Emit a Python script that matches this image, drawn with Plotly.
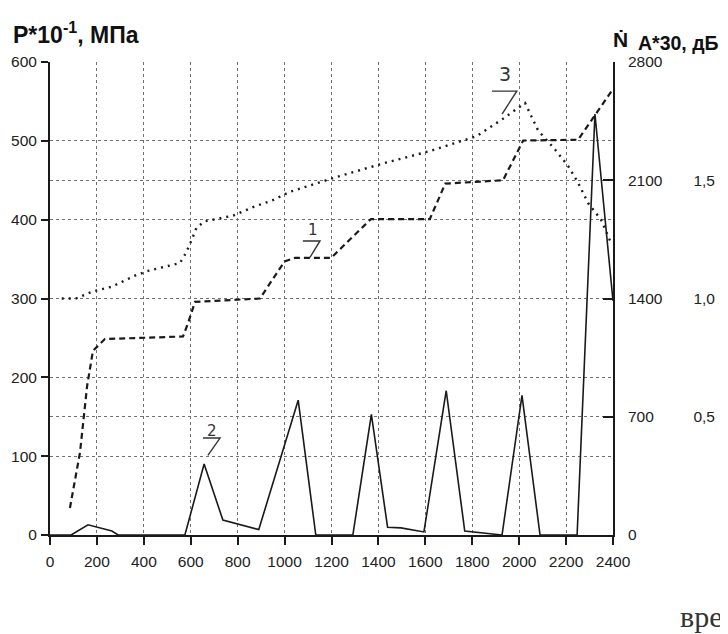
import plotly.graph_objects as go

# ---- data ----
# curve 3 (dotted): pressure P*10^-1, MPa (left axis)
p_time = [50, 110, 183, 264, 362, 418, 554, 580, 605, 625, 660, 780, 866, 952, 1020,
          1220, 1416, 1619, 1819, 1931, 2025, 2081, 2153, 2209, 2251, 2294, 2349, 2395]
p_values = [300, 300, 309, 315, 329, 335, 345, 358, 375, 390, 398, 405, 416, 425, 435,
            454, 471, 487, 506, 528, 548, 513, 489, 468, 447, 421, 400, 368]

# curve 1 (dashed): cumulative count N (right axis, 0..2800)
n_time = [85, 128, 158, 183, 234, 567, 590, 618, 895, 1000, 1044, 1198, 1368, 1619,
          1685, 1931, 2017, 2251, 2400]
n_values = [160, 490, 880, 1090, 1160, 1175, 1260, 1380, 1400, 1620, 1640, 1640, 1870,
            1870, 2080, 2100, 2335, 2340, 2640]

# curve 2 (solid): amplitude A*30, dB (far right axis, 0..2.0)
a_time = [0, 90, 162, 264, 290, 575, 657, 737, 890, 1058, 1133, 1291, 1370, 1439, 1496,
          1594, 1689, 1768, 1927, 2012, 2089, 2247, 2323, 2400]
a_values = [0, 0, 0.043, 0.017, 0, 0, 0.30, 0.063, 0.023, 0.57, 0, 0, 0.51, 0.033, 0.03,
            0.013, 0.61, 0.017, 0, 0.59, 0, 0, 1.78, 0.99]

x_ticks = [0, 200, 400, 600, 800, 1000, 1200, 1400, 1600, 1800, 2000, 2200, 2400]
p_ticks = [0, 100, 200, 300, 400, 500, 600]
n_ticks = [0, 700, 1400, 2100, 2800]
a_ticks = [0, 0.5, 1.0, 1.5, 2.0]
a_ticktext = ["0,0", "0,5", "1,0", "1,5", "2,0"]

# curve number labels: text, x, y (left scale)
curve_labels = [("1", 1121, 387), ("2", 690, 132), ("3", 1940, 585)]

INK = "#1a1a1a"
GRID = "#707070"
TICKFONT = dict(size=15.5, color="#222")

fig = go.Figure()
fig.add_trace(go.Scatter(x=p_time, y=p_values, mode="lines", yaxis="y",
                         line=dict(color=INK, width=2.4, dash="2px,5px"), showlegend=False))
fig.add_trace(go.Scatter(x=n_time, y=n_values, mode="lines", yaxis="y2",
                         line=dict(color=INK, width=2.2, dash="6px,4px"), showlegend=False))
fig.add_trace(go.Scatter(x=a_time, y=a_values, mode="lines", yaxis="y3",
                         line=dict(color=INK, width=1.6), showlegend=False))

# the page places the figure 8px in from the window's top-left corner
OFF = 8
W, H = 728, 634
ml = 50 - OFF
mt = 62 - OFF
mr = W - (718 - OFF)
mb = H - (535 - OFF)
pw = W - ml - mr
ph = H - mt - mb
xdom_end = 563 / pw


def px_x(px):  # screen pixel -> paper coordinate
    return (px - OFF - ml) / pw


def px_y(py):
    return (H - mb - (py - OFF)) / ph


fig.update_layout(
    width=W, height=H,
    margin=dict(l=ml, r=mr, t=mt, b=mb, autoexpand=False),
    paper_bgcolor="white", plot_bgcolor="white",
    font=dict(family="Liberation Sans, Arial, sans-serif", color="#222", size=12),
    xaxis=dict(domain=[0, xdom_end], range=[0, 2400], tickvals=x_ticks,
               showgrid=True, gridcolor=GRID, griddash="dot", gridwidth=1,
               showline=True, linecolor=INK, linewidth=2, zeroline=False,
               ticks="outside", ticklen=8, tickcolor=INK, tickwidth=1.5,
               ticklabelstandoff=3, automargin=False, tickfont=TICKFONT),
    yaxis=dict(range=[0, 600], tickvals=p_ticks, showgrid=True, gridcolor=GRID,
               griddash="dot", gridwidth=1, showline=True, linecolor=INK, linewidth=2,
               zeroline=False, ticks="outside", ticklen=7, tickcolor=INK, tickwidth=1.5,
               ticklabelstandoff=1, automargin=False, tickfont=TICKFONT),
    yaxis2=dict(overlaying="y", side="right", anchor="x", range=[0, 2800],
                tickvals=n_ticks, showgrid=True, gridcolor=GRID, griddash="dot",
                gridwidth=1, showline=True, linecolor=INK, linewidth=1.6,
                zeroline=False, ticks="inside", ticklen=10, tickcolor=INK,
                tickwidth=1.5, ticklabelstandoff=10, automargin=False,
                tickfont=TICKFONT),
    yaxis3=dict(overlaying="y", side="right", anchor="free", position=1.0,
                range=[0, 2], tickvals=a_ticks, ticktext=a_ticktext,
                showgrid=False, showline=False, zeroline=False, ticks="",
                ticklabelposition="inside", automargin=False,
                tickfont=TICKFONT),
)

ann = [
    dict(text="<b>P*10<sup>-1</sup>, МПа</b>", xref="paper", yref="paper",
         x=px_x(11), y=px_y(33), xanchor="left", yanchor="middle", showarrow=False,
         font=dict(size=23, color="#111")),
    dict(text="<b>Ṅ</b>", xref="paper", yref="paper",
         x=px_x(611), y=px_y(40), xanchor="left", yanchor="middle", showarrow=False,
         font=dict(size=21, color="#111")),
    dict(text="<b>A*30, дБ</b>", xref="paper", yref="paper",
         x=px_x(636), y=px_y(43), xanchor="left", yanchor="middle", showarrow=False,
         font=dict(size=19.5, color="#111")),
    dict(text="время", xref="paper", yref="paper",
         x=px_x(678), y=px_y(616), xanchor="left", yanchor="middle", showarrow=False,
         font=dict(size=30, color="#333", family="Liberation Serif, DejaVu Serif, serif")),
]

# leader marks: (bar from dx0 to dx1 at dy, then slanted stroke to tip), per label
leaders = [(-43, 30, -14, -13, -35), (-38, 35, -9, -17, -31), (-56, 50, -22, -13, -51)]
label_sizes = [15, 15, 19]
for (lab, lx, ly), (d0, d1, dy, tx, ty), fs in zip(curve_labels, leaders, label_sizes):
    ann.append(dict(text=lab, xref="x", yref="y", x=lx, y=ly, showarrow=False,
                    font=dict(size=fs, color="#333", family="DejaVu Sans")))
    fig.add_shape(type="path", xref="x", yref="y",
                  path=f"M {lx+d0},{ly+dy} L {lx+d1},{ly+dy} L {lx+tx},{ly+ty}",
                  line=dict(color="#333", width=1.4))
fig.update_layout(annotations=ann)

fig.write_html("out.html")
